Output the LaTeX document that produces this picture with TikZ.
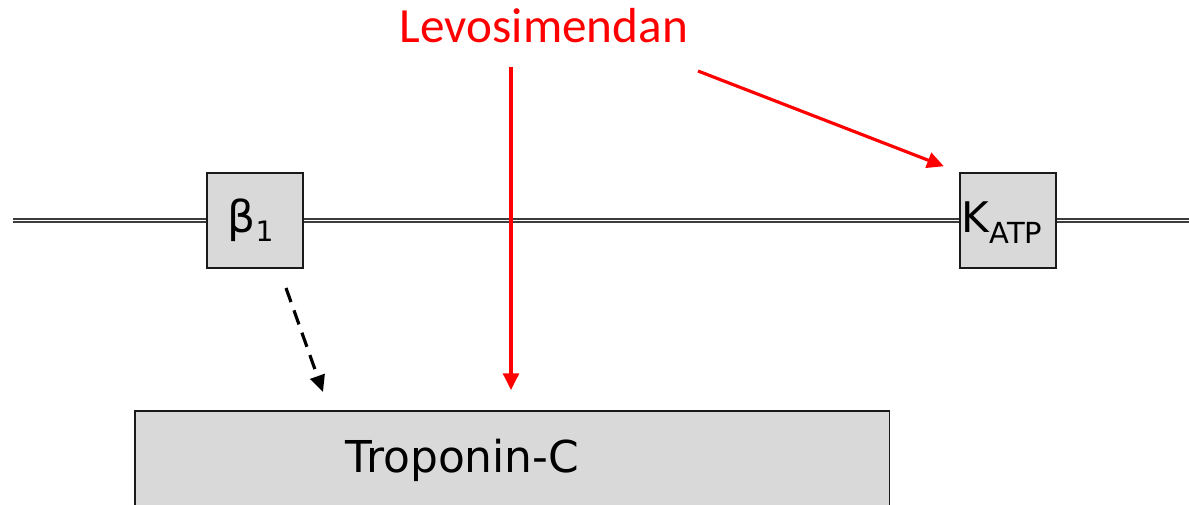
\documentclass[tikz,border=0pt]{standalone}
\usepackage{fontspec}
\setmainfont{DejaVu Sans}
\newfontfamily\drugfont{Carlito}
\usetikzlibrary{arrows.meta}
\definecolor{boxfill}{HTML}{D9D9D9}
\definecolor{boxline}{HTML}{1A1A1A}
\definecolor{drugred}{HTML}{FF0000}
\definecolor{memline}{HTML}{3C3C3C}
\begin{document}
\begin{tikzpicture}[x=0.02cm, y=-0.02cm,
  channel/.style={draw=boxline, line width=0.9pt, fill=boxfill,
    minimum width=1.92cm, minimum height=1.9cm, inner sep=0pt,
    text height=14.2pt, text depth=0pt, font=\fontsize{24}{28}\selectfont},
  membrane/.style={draw=memline, line width=0.7pt, double=white, double distance=1.1pt},
  drugarrow/.style={draw=drugred, line width=1.8pt, -{Triangle[length=9.5pt,width=9pt]}},
  signal/.style={draw=black, line width=1.8pt, dash pattern=on 8.5pt off 5pt,
    -{Triangle[length=9.5pt,width=8.5pt]}}]
\useasboundingbox (0,0) rectangle (1189,504);
\clip (0,0) rectangle (1189,504);
% cell membrane
\coordinate (memL) at (13,220.5);
\coordinate (memR) at (1195,220.5);
\draw[membrane] (memL) -- (memR);
% receptors / channels in the membrane
\node[channel] (beta) at (255,220.5) {{\fontsize{25}{28}\selectfont β}\raisebox{-5.1pt}{\fontsize{16}{18}\selectfont 1}\kern5pt};
\node[channel] (katp) at (1008,220.5) {K\raisebox{-6.2pt}{\fontsize{16.5}{18}\selectfont ATP}\kern6.8pt};
% troponin-C
\node[draw=boxline, line width=0.9pt, fill=boxfill, anchor=north west,
  inner xsep=4.22cm, inner ysep=0.4cm, text width=6.66cm, align=left,
  text height=0.84cm, text depth=2cm, font=\fontsize{25}{30}\selectfont]
  (trop) at (134,410) {Troponin-C};
% drug
\node[text=drugred, font=\drugfont\fontsize{28}{32}\selectfont, anchor=base, inner sep=0pt]
  (levo) at (544,42) {Levosimendan};
\coordinate (levoDown) at (511,67);
\coordinate (levoSide) at (698,71);
\draw[drugarrow, shorten >=0.4cm] (levoDown) -- (levoDown |- trop.north);
\draw[drugarrow, shorten >=0.33cm] (levoSide) -- (katp.north west);
% beta-adrenergic signalling
\coordinate (sigS) at (286,288);
\coordinate (sigE) at (323,392);
\draw[signal] (sigS) -- (sigE);
\end{tikzpicture}
\end{document}
